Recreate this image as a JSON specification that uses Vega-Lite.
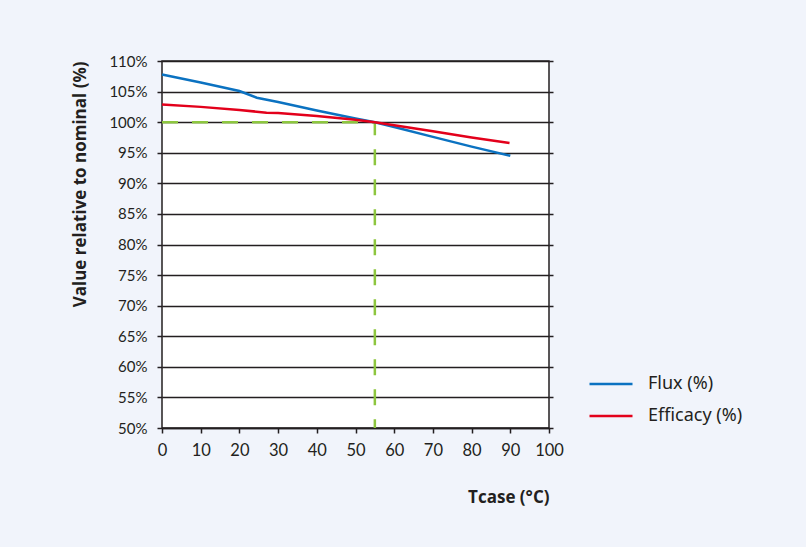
{
  "$schema": "https://vega.github.io/schema/vega-lite/v6.json",
  "width": 387,
  "height": 367,
  "autosize": {"type": "none"},
  "padding": {"left": 162, "top": 61, "right": 257, "bottom": 119},
  "background": "#f1f4fb",
  "config": {
    "view": {"fill": "white", "stroke": "#231f20", "strokeWidth": 1.5},
    "axis": {"labelColor": "#231f20", "titleColor": "#231f20", "tickColor": "#231f20", "domainColor": "#231f20", "labelFont": "Lato", "titleFont": "Open Sans"}
  },
  "datasets": {
    "series": [
      {"t": 0, "v": 107.8, "s": "Flux (%)"},
      {"t": 10, "v": 106.5, "s": "Flux (%)"},
      {"t": 20, "v": 105.1, "s": "Flux (%)"},
      {"t": 24.5, "v": 104.0, "s": "Flux (%)"},
      {"t": 30, "v": 103.3, "s": "Flux (%)"},
      {"t": 40, "v": 101.9, "s": "Flux (%)"},
      {"t": 50, "v": 100.6, "s": "Flux (%)"},
      {"t": 55, "v": 100.0, "s": "Flux (%)"},
      {"t": 60, "v": 99.2, "s": "Flux (%)"},
      {"t": 70, "v": 97.6, "s": "Flux (%)"},
      {"t": 80, "v": 96.0, "s": "Flux (%)"},
      {"t": 90, "v": 94.5, "s": "Flux (%)"},
      {"t": 0, "v": 102.9, "s": "Efficacy (%)"},
      {"t": 10, "v": 102.5, "s": "Efficacy (%)"},
      {"t": 20, "v": 102.0, "s": "Efficacy (%)"},
      {"t": 27, "v": 101.55, "s": "Efficacy (%)"},
      {"t": 30, "v": 101.5, "s": "Efficacy (%)"},
      {"t": 40, "v": 101.0, "s": "Efficacy (%)"},
      {"t": 50, "v": 100.4, "s": "Efficacy (%)"},
      {"t": 55, "v": 100.0, "s": "Efficacy (%)"},
      {"t": 60, "v": 99.5, "s": "Efficacy (%)"},
      {"t": 70, "v": 98.5, "s": "Efficacy (%)"},
      {"t": 80, "v": 97.5, "s": "Efficacy (%)"},
      {"t": 89.8, "v": 96.6, "s": "Efficacy (%)"}
    ],
    "ref": [
      {"t": 0, "v": 100, "o": 1},
      {"t": 55, "v": 100, "o": 2},
      {"t": 55, "v": 50, "o": 3}
    ]
  },
  "encoding": {
    "x": {"field": "t", "type": "quantitative", "scale": {"domain": [0, 100]},
      "axis": {"values": [0,10,20,30,40,50,60,70,80,90,100], "labelOverlap": false, "labelFlush": false, "grid": false, "tickSize": 5, "tickWidth": 1.5, "domainWidth": 1.5, "labelFontSize": 16.5, "labelPadding": 9, "title": "Tcase (°C)", "titleFontSize": 17, "titleFontWeight": "bold", "titleAnchor": "end", "titleAlign": "right", "titleBaseline": "alphabetic", "titleY": 74}}
  },
  "resolve": {"axis": {"y": "independent"}},
  "layer": [
    {
      "data": {"name": "ref"},
      "mark": {"type": "line", "color": "#8dc63f", "strokeWidth": 2.5, "strokeDash": [16, 14]},
      "encoding": {
        "y": {"field": "v", "type": "quantitative", "scale": {"domain": [50, 110]},
          "axis": {"orient": "right", "values": [50,55,60,65,70,75,80,85,90,95,100,105,110], "labels": false, "domain": false, "grid": false, "tickSize": 4, "tickWidth": 1.5, "title": null}},
        "order": {"field": "o"}
      }
    },
    {
      "data": {"name": "series"},
      "mark": {"type": "line", "strokeWidth": 2.5},
      "encoding": {
        "y": {"field": "v", "type": "quantitative",
          "axis": {"orient": "left", "values": [50,55,60,65,70,75,80,85,90,95,100,105,110], "labelExpr": "datum.value + '%'", "labelOverlap": false, "grid": true, "gridColor": "#231f20", "gridWidth": 1.5, "gridOpacity": 1, "domain": false, "tickSize": 5, "tickWidth": 1.5, "labelFontSize": 15, "labelPadding": 10, "title": "Value relative to nominal (%)", "titleFontSize": 17, "titleFontWeight": "bold", "titleAnchor": "end", "titleAlign": "right", "titleBaseline": "middle", "titleX": -82, "titleY": 0}},
        "color": {"field": "s", "type": "nominal",
          "scale": {"domain": ["Flux (%)", "Efficacy (%)"], "range": ["#0b72c1", "#e3001b"]},
          "legend": {"orient": "none", "legendX": 426, "legendY": 300, "title": null, "symbolType": "stroke", "symbolSize": 1849, "symbolStrokeWidth": 2.5, "labelFont": "Noto Sans", "labelFontSize": 18, "labelColor": "#231f20", "labelOffset": 14, "rowPadding": 0}}
      }
    }
  ]
}
